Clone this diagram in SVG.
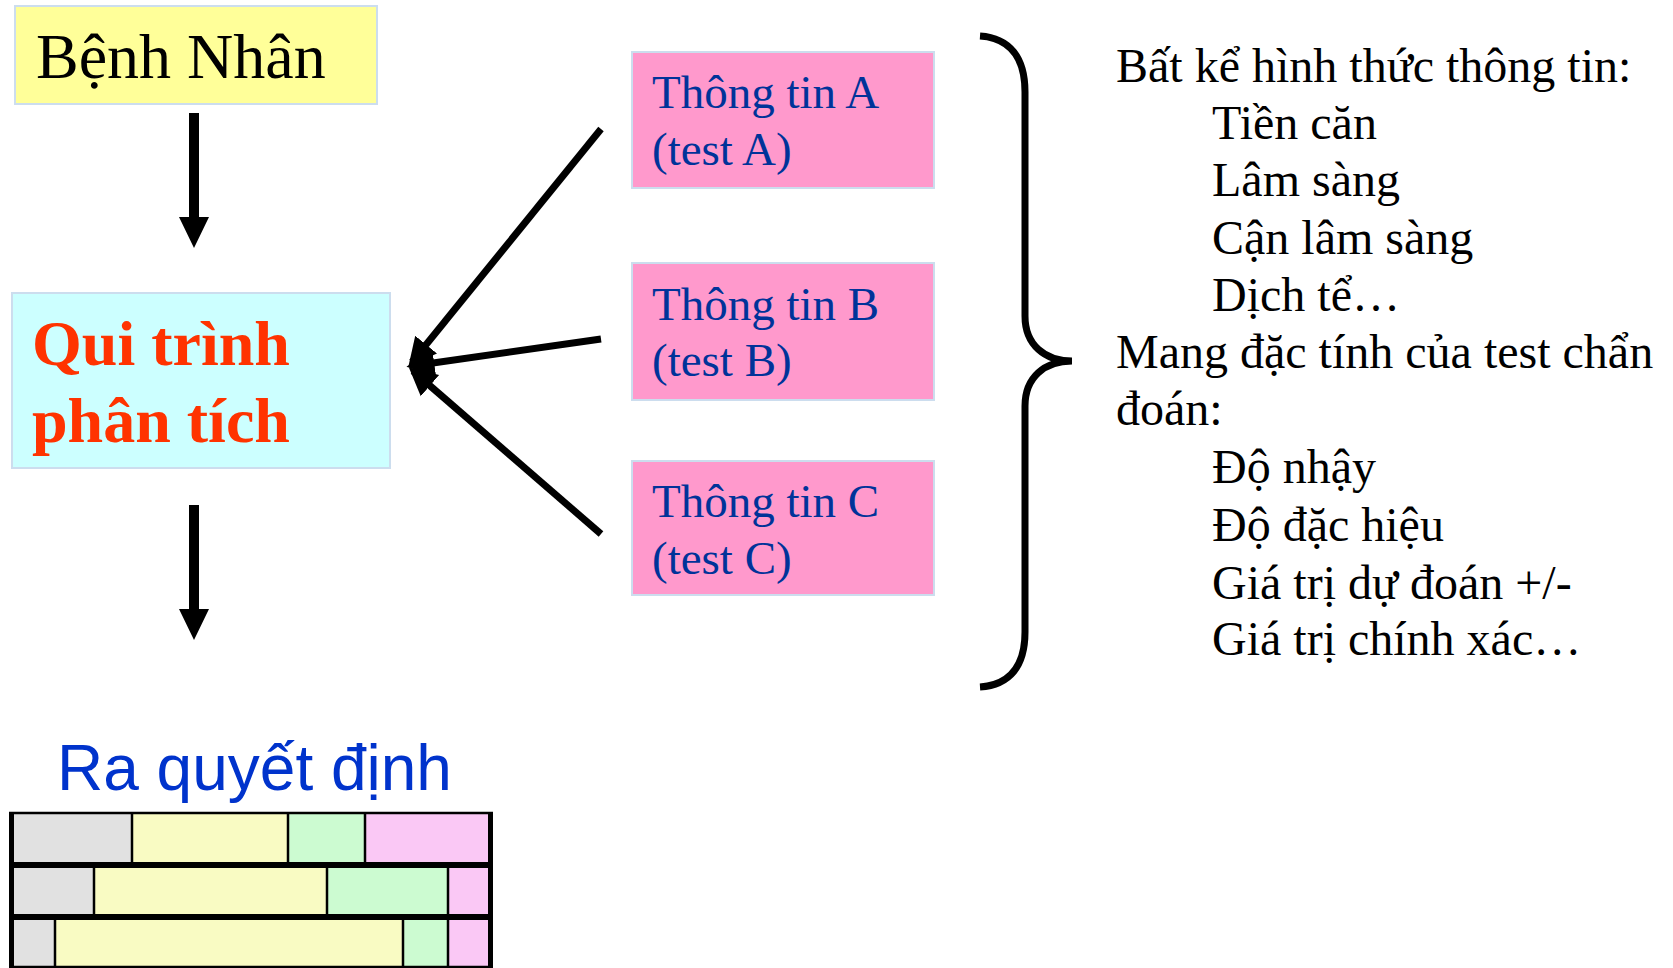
<svg xmlns="http://www.w3.org/2000/svg" width="1673" height="968" viewBox="0 0 1673 968">
  <defs>
    <style>
      .serif { font-family: "Liberation Serif", "Times New Roman", serif; }
      .box { stroke: #CCDDEE; stroke-width: 2; }
      .info { fill: #FF99CC; }
      .info-text { font-family: "Liberation Serif", "Times New Roman", serif; font-size: 47px; fill: #003399; }
      .note { font-family: "Liberation Serif", "Times New Roman", serif; font-size: 48px; fill: #000000; }
      .link { stroke: #000000; stroke-width: 7; fill: none; marker-end: url(#head); }
      .cell-grey { fill: #E1E1E1; }
      .cell-yellow { fill: #F9FBC3; }
      .cell-green { fill: #CCFBD1; }
      .cell-pink { fill: #FAC8F5; }
      .thin { stroke: #000000; stroke-width: 2.5; }
      .thick { stroke: #000000; }
    </style>
    <marker id="head" viewBox="0 0 10 10" refX="8" refY="5" markerWidth="4" markerHeight="5" orient="auto" markerUnits="strokeWidth">
      <path d="M0,0 L10,5 L0,10 Z" fill="#000000"/>
    </marker>
  </defs>

  <rect width="1673" height="968" fill="#FFFFFF"/>

  <!-- patient -->
  <g id="benh-nhan">
    <rect class="box" x="15" y="6" width="362" height="98" fill="#FFFF99"/>
    <text class="serif" x="36" y="78" font-size="64" fill="#000000">Bệnh Nhân</text>
  </g>

  <!-- analysis process -->
  <g id="qui-trinh">
    <rect class="box" x="12" y="293" width="378" height="175" fill="#CCFFFF"/>
    <text class="serif" x="32" y="365" font-size="64" font-weight="bold" fill="#FF3300">Qui trình</text>
    <text class="serif" x="32" y="442" font-size="64" font-weight="bold" fill="#FF3300">phân tích</text>
  </g>

  <!-- information sources -->
  <g id="thong-tin-a">
    <rect class="box info" x="632" y="52" width="302" height="136"/>
    <text class="info-text" x="652" y="108">Thông tin A</text>
    <text class="info-text" x="652" y="165">(test A)</text>
  </g>
  <g id="thong-tin-b">
    <rect class="box info" x="632" y="263" width="302" height="137"/>
    <text class="info-text" x="652" y="320">Thông tin B</text>
    <text class="info-text" x="652" y="376">(test B)</text>
  </g>
  <g id="thong-tin-c">
    <rect class="box info" x="632" y="461" width="302" height="134"/>
    <text class="info-text" x="652" y="517">Thông tin C</text>
    <text class="info-text" x="652" y="574">(test C)</text>
  </g>

  <!-- connectors -->
  <g id="connectors">
    <polygon points="189,113 199,113 199,217 209,217 194,248 179,217 189,217" fill="#000000"/>
    <polygon points="189,505 199,505 199,609 209,609 194,640 179,609 189,609" fill="#000000"/>
    <line class="link" x1="601" y1="129" x2="412" y2="362"/>
    <line class="link" x1="601" y1="339" x2="412" y2="366"/>
    <line class="link" x1="601" y1="534" x2="413" y2="371"/>
  </g>

  <!-- brace grouping the information sources -->
  <g id="brace">
    <path d="M980,36 C1010,38 1025,58 1025,92 L1025,316 C1025,345 1045,361 1072,361 C1045,361 1025,377 1025,406 L1025,632 C1025,666 1010,685 980,687" fill="none" stroke="#000000" stroke-width="7"/>
  </g>

  <!-- notes -->
  <g id="ghi-chu">
    <text class="note" x="1116" y="82">Bất kể hình thức thông tin:</text>
    <text class="note" x="1212" y="139">Tiền căn</text>
    <text class="note" x="1212" y="196">Lâm sàng</text>
    <text class="note" x="1212" y="254">Cận lâm sàng</text>
    <text class="note" x="1212" y="311">Dịch tể…</text>
    <text class="note" x="1116" y="368">Mang đặc tính của test chẩn</text>
    <text class="note" x="1116" y="425">đoán:</text>
    <text class="note" x="1212" y="483">Độ nhậy</text>
    <text class="note" x="1212" y="541">Độ đặc hiệu</text>
    <text class="note" x="1212" y="599">Giá trị dự đoán +/-</text>
    <text class="note" x="1212" y="655">Giá trị chính xác…</text>
  </g>

  <!-- decision -->
  <g id="ra-quyet-dinh">
    <text x="57" y="790" font-family="Liberation Sans, Arial, sans-serif" font-size="64" fill="#0033CC">Ra quyết định</text>
    <!-- row 1 -->
    <rect class="cell-grey" x="12" y="813" width="120" height="50"/>
    <rect class="cell-yellow" x="132" y="813" width="156" height="50"/>
    <rect class="cell-green" x="288" y="813" width="77" height="50"/>
    <rect class="cell-pink" x="365" y="813" width="125" height="50"/>
    <!-- row 2 -->
    <rect class="cell-grey" x="12" y="865" width="82" height="51"/>
    <rect class="cell-yellow" x="94" y="865" width="233" height="51"/>
    <rect class="cell-green" x="327" y="865" width="121" height="51"/>
    <rect class="cell-pink" x="448" y="865" width="42" height="51"/>
    <!-- row 3 -->
    <rect class="cell-grey" x="12" y="917" width="43" height="51"/>
    <rect class="cell-yellow" x="55" y="917" width="348" height="51"/>
    <rect class="cell-green" x="403" y="917" width="45" height="51"/>
    <rect class="cell-pink" x="448" y="917" width="42" height="51"/>
    <!-- column dividers -->
    <line class="thin" x1="132" y1="813" x2="132" y2="865"/>
    <line class="thin" x1="288" y1="813" x2="288" y2="865"/>
    <line class="thin" x1="365" y1="813" x2="365" y2="865"/>
    <line class="thin" x1="94" y1="865" x2="94" y2="917"/>
    <line class="thin" x1="327" y1="865" x2="327" y2="917"/>
    <line class="thin" x1="448" y1="865" x2="448" y2="917"/>
    <line class="thin" x1="55" y1="917" x2="55" y2="968"/>
    <line class="thin" x1="403" y1="917" x2="403" y2="968"/>
    <line class="thin" x1="448" y1="917" x2="448" y2="968"/>
    <!-- rules -->
    <line class="thin" x1="9" y1="813" x2="493" y2="813"/>
    <line class="thin" x1="9" y1="967" x2="493" y2="967"/>
    <line class="thick" stroke-width="6" x1="9" y1="865" x2="493" y2="865"/>
    <line class="thick" stroke-width="6" x1="9" y1="917" x2="493" y2="917"/>
    <line class="thick" stroke-width="5" x1="11.5" y1="812" x2="11.5" y2="968"/>
    <line class="thick" stroke-width="5" x1="490.5" y1="812" x2="490.5" y2="968"/>
  </g>
</svg>
